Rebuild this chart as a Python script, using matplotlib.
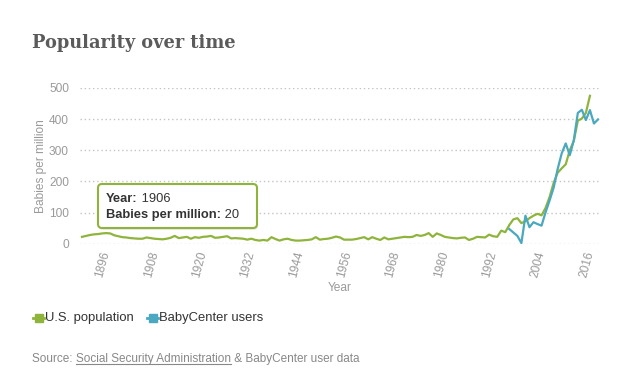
import matplotlib
matplotlib.use("Agg")
import matplotlib.pyplot as plt
from matplotlib.patches import FancyBboxPatch
from matplotlib.lines import Line2D
import numpy as np

# 数据：每年每百万新生儿中取此名字的人数
us_years = list(range(1890, 2017))
us_values = [
    22, 25, 28, 30, 31, 33, 34, 33, 27, 24,   # 1890-1899
    21, 20, 18, 17, 16, 16, 20, 18, 16, 15,   # 1900-1909
    14, 16, 19, 25, 18, 20, 22, 16, 21, 19,   # 1910-1919
    22, 23, 25, 19, 20, 22, 24, 17, 18, 17,   # 1920-1929
    16, 13, 16, 12, 10, 12, 10, 21, 15, 10,   # 1930-1939
    14, 16, 12, 10, 10, 11, 12, 14, 21, 13,   # 1940-1949
    15, 16, 19, 23, 20, 13, 13, 13, 15, 18,   # 1950-1959
    21, 14, 21, 16, 12, 20, 14, 16, 18, 20,   # 1960-1969
    22, 21, 22, 28, 25, 28, 34, 22, 33, 28,   # 1970-1979
    22, 20, 18, 17, 19, 20, 12, 16, 22, 21,   # 1980-1989
    20, 29, 24, 22, 42, 37, 60, 78, 82, 66,   # 1990-1999
    72, 82, 90, 96, 91, 115, 150, 195, 228, 242,  # 2000-2009
    255, 300, 330, 395, 402, 420, 475,        # 2010-2016
]
bc_years = list(range(1996, 2019))
bc_values = [47, 36, 25, 2, 90, 53, 69, 63, 58, 101, 139, 180,
             240, 290, 322, 284, 332, 420, 430, 397, 429, 386, 399]

year_ticks = list(range(1896, 2017, 12))
y_ticks = [0, 100, 200, 300, 400, 500]

series_names = ["U.S. population", "BabyCenter users"]
green = "#8fb43c"
blue = "#4aa8c0"
grey = "#9a9a9a"
W, H = 635, 383
SANS = ["Liberation Sans", "DejaVu Sans"]


def fx(x):
    return x / W


def fy(y):
    return 1 - y / H


fig = plt.figure(figsize=(W / 100, H / 100), dpi=100)
ax = fig.add_axes([fx(80), fy(243.7), 520 / W, (243.7 - 88) / H])

ax.plot(us_years, us_values, color=green, lw=1.6, solid_joinstyle="round", zorder=3)
ax.plot(bc_years, bc_values, color=blue, lw=1.6, solid_joinstyle="round", zorder=4)

ax.set_xlim(1889.5, 2018.5)
ax.set_ylim(0, 500)
ax.set_yticks(y_ticks)
ax.set_yticklabels([str(v) for v in y_ticks], family=SANS, fontsize=8.6, color=grey)
ax.set_xticks(year_ticks)
ax.set_xticklabels([str(v) for v in year_ticks], family=SANS, fontsize=8.6, color=grey,
                   rotation=75, rotation_mode="anchor", ha="right", va="center")
ax.tick_params(axis="both", length=0)
ax.tick_params(axis="x", pad=6)
ax.tick_params(axis="y", pad=8)
for s in ax.spines.values():
    s.set_visible(False)
ax.grid(axis="y", color="#c4c4c4", lw=1, linestyle=(0, (1, 2)))
ax.set_axisbelow(True)

# 标题和坐标轴标签
fig.text(fx(32), fy(48), "Popularity over time", family="DejaVu Serif", weight="bold",
         fontsize=12.8, color="#5b5b5b", va="baseline", ha="left")
fig.text(fx(41), fy(166), "Babies per million", family=SANS, fontsize=8.6, color=grey,
         rotation=90, ha="center", va="center")
fig.text(fx(340), fy(288), "Year", family=SANS, fontsize=8.6, color=grey,
         ha="center", va="center")

renderer = fig.canvas.get_renderer()


def rich(x, y, parts, size, color="#333333"):
    # 依次画粗体/常规文字片段，返回末端位置
    for txt, wt in parts:
        t = fig.text(fx(x), fy(y), txt, family=SANS, fontsize=size, weight=wt,
                     color=color, ha="left", va="center", zorder=10)
        bb = t.get_window_extent(renderer)
        x = bb.x1
    return x


# 提示框
shadow = FancyBboxPatch((99 / 100, (H - 230) / 100), 159 / 100, 44 / 100,
                        boxstyle="round,pad=0,rounding_size=0.04",
                        transform=fig.dpi_scale_trans, fc="black", ec="none",
                        alpha=0.08, zorder=8)
box = FancyBboxPatch((98 / 100, (H - 228) / 100), 159 / 100, 44 / 100,
                     boxstyle="round,pad=0,rounding_size=0.04",
                     transform=fig.dpi_scale_trans, fc="white", ec=green,
                     lw=1.5, zorder=9)
fig.add_artist(shadow)
fig.add_artist(box)
rich(106, 199, [("Year:", "bold"), (" 1906", "normal")], 9.3)
rich(106, 215, [("Babies per million:", "bold"), (" 20", "normal")], 9.3)

# 图例
for (x0, col, name) in [(33, green, series_names[0]), (147, blue, series_names[1])]:
    fig.add_artist(Line2D([fx(x0), fx(x0 + 11)], [fy(318), fy(318)], color=col, lw=2,
                          transform=fig.transFigure))
    fig.add_artist(Line2D([fx(x0 + 5.5)], [fy(318)], color=col, marker="s", markersize=5.5,
                          transform=fig.transFigure))
    fig.text(fx(x0 + 12), fy(318), name, family=SANS, fontsize=9.4, color="#333333",
             ha="left", va="center")

# 数据来源
src_color = "#888888"
x = 32
t = fig.text(fx(x), fy(359), "Source: ", family=SANS, fontsize=8.5, color=src_color,
             ha="left", va="center")
x = t.get_window_extent(renderer).x1
t2 = fig.text(x / W, fy(359), "Social Security Administration", family=SANS, fontsize=8.5,
              color=src_color, ha="left", va="center")
bb = t2.get_window_extent(renderer)
fig.add_artist(Line2D([bb.x0 / W, bb.x1 / W], [fy(364), fy(364)], color=src_color, lw=0.8,
                      transform=fig.transFigure))
fig.text(bb.x1 / W, fy(359), " & BabyCenter user data", family=SANS, fontsize=8.5,
         color=src_color, ha="left", va="center")

fig.savefig("out.png", dpi=100)
